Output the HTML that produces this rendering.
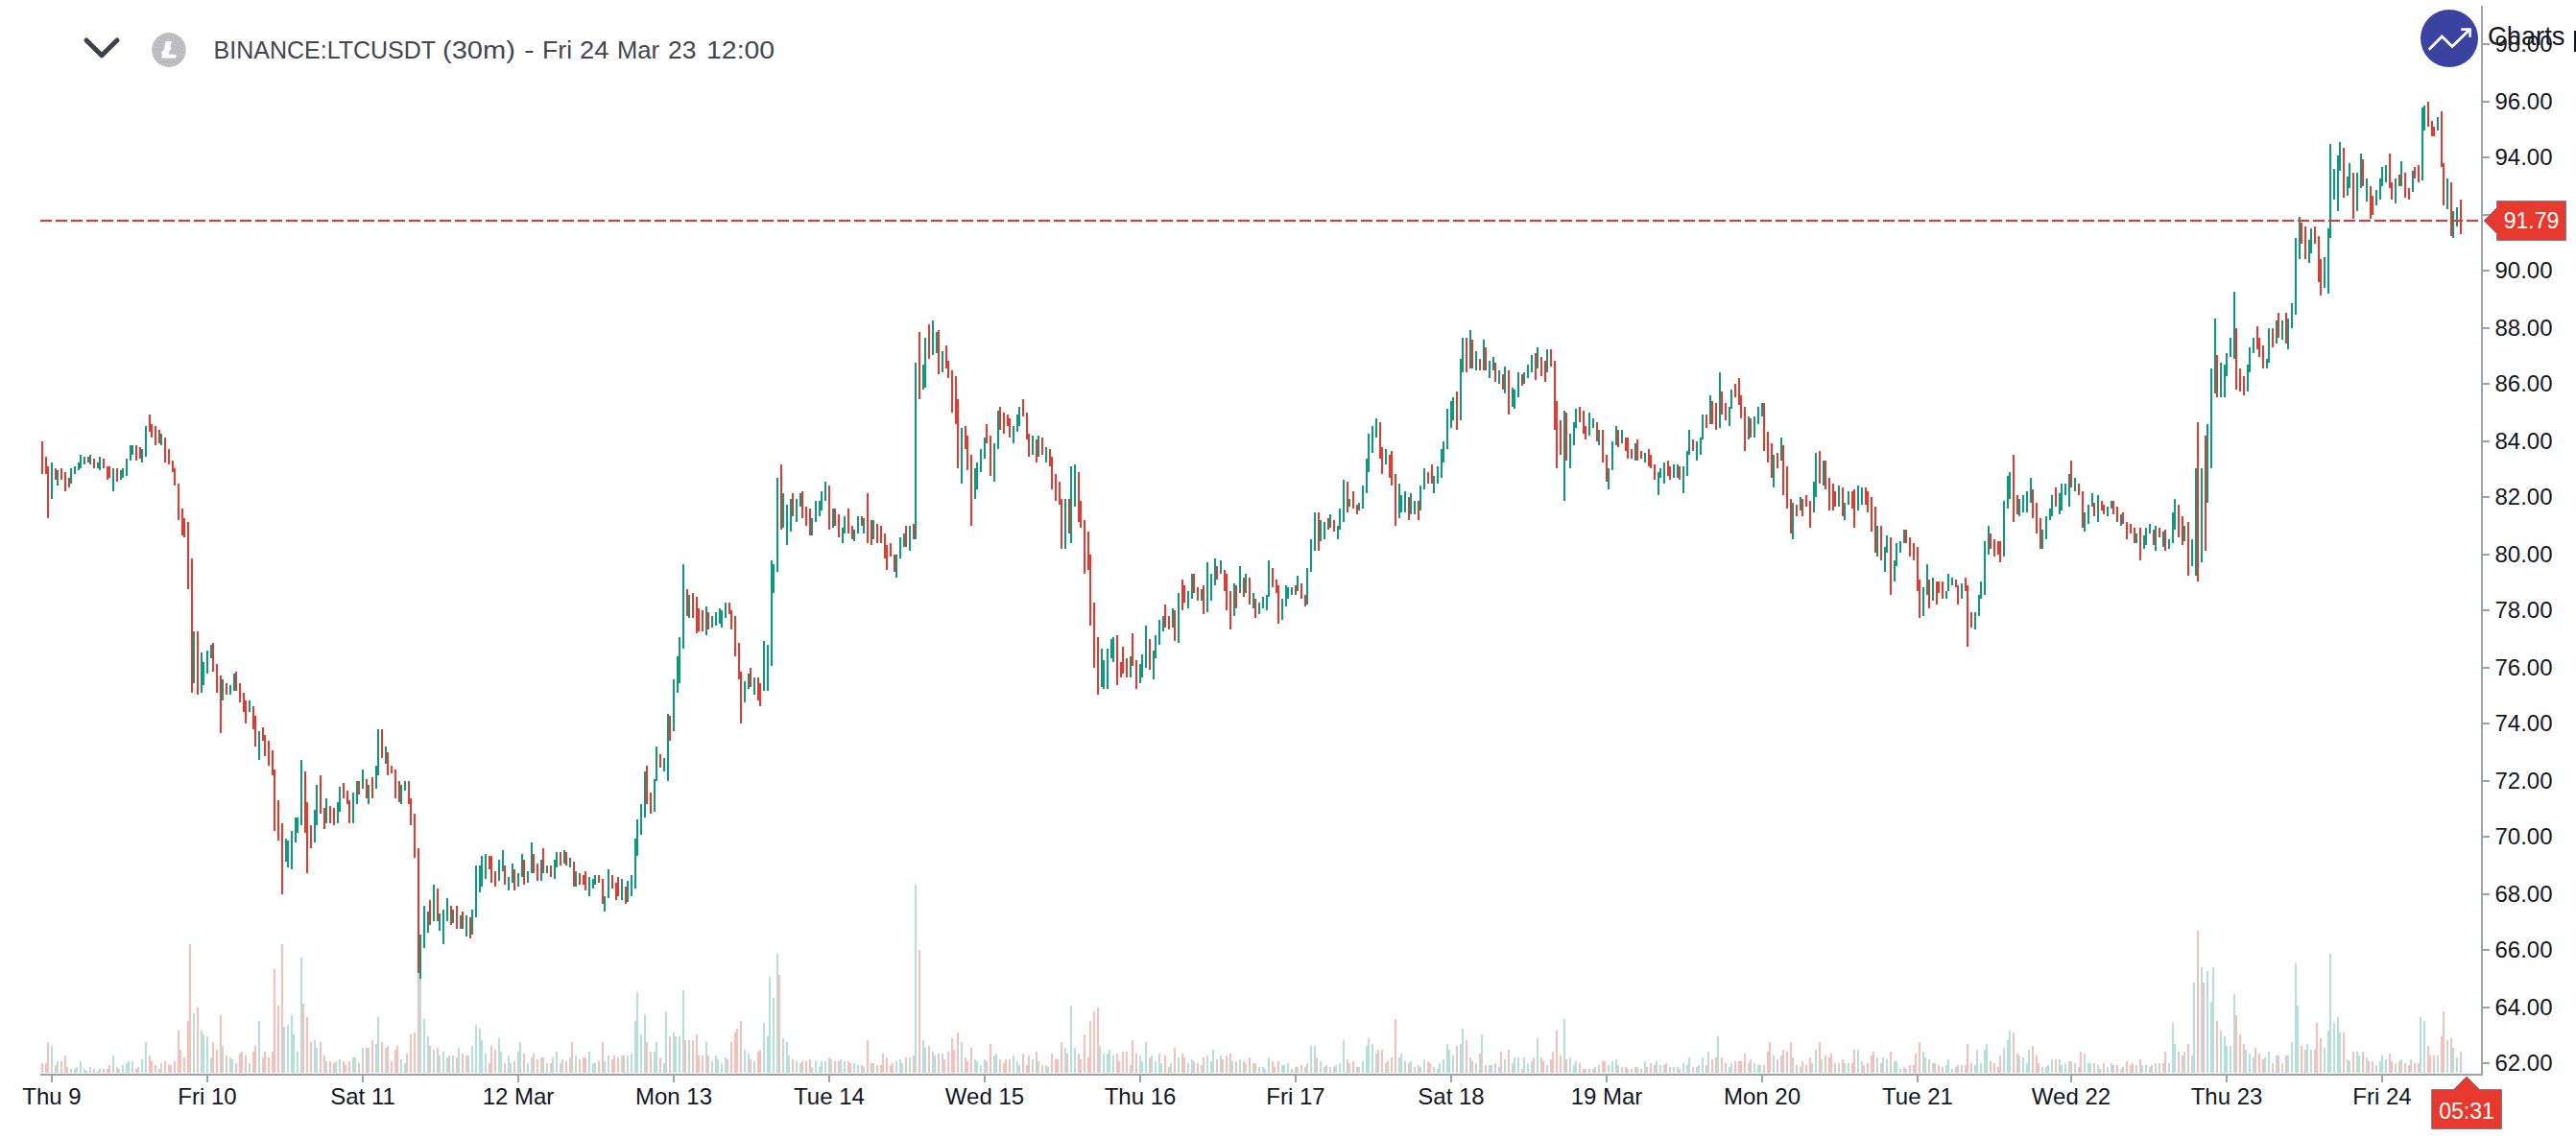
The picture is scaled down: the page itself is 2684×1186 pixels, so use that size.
<!DOCTYPE html>
<html><head><meta charset="utf-8"><title>LTCUSDT</title>
<style>
html,body{margin:0;padding:0;background:#fff}
body{width:2684px;height:1186px;position:relative;overflow:hidden;font-family:"Liberation Sans",sans-serif;color:#131722}
.pl{position:absolute;left:2599.5px;width:80px;height:28px;line-height:28px;font-size:24px;white-space:nowrap;transform-origin:0 50%;transform:scale(1.0,1.03)}
.dl{position:absolute;top:1128px;width:200px;height:30px;line-height:30px;text-align:center;font-size:24px;white-space:nowrap}
#title{position:absolute;left:0;top:27px;height:50px;line-height:50px;font-size:25px;color:#434651;white-space:nowrap}
#title span{position:absolute;top:0;transform-origin:0 50%;white-space:nowrap}
#charts{position:absolute;left:2592px;top:20px;font-size:28px;line-height:36px;white-space:nowrap;color:#131722;transform-origin:0 50%;transform:scaleX(0.975)}
#ptag{position:absolute;left:2601px;top:210px;width:73px;height:42px}
#ptag span,#ttag span{position:absolute;left:0;right:0;top:0;bottom:0;color:#fff;font-size:24px;line-height:40px;text-align:center;transform:scaleX(0.96)}
#ttag{position:absolute;left:2533px;top:1137.5px;width:74px;height:42px}
</style></head><body>
<svg width="2684" height="1186" viewBox="0 0 2684 1186" shape-rendering="crispEdges" style="position:absolute;left:0;top:0"><path d="M54 1118V1090M60 1118V1106M74 1118V1114M78 1118V1114M80 1118V1112M84 1118V1106M88 1118V1114M94 1118V1112M102 1118V1116M104 1118V1114M118 1118V1100M124 1118V1114M128 1118V1110M132 1118V1108M134 1118V1106M138 1118V1106M148 1118V1104M152 1118V1086M168 1118V1108M202 1118V1056M210 1118V1074M212 1118V1078M216 1118V1080M220 1118V1102M232 1118V1090M240 1118V1102M242 1118V1104M260 1118V1108M270 1118V1064M296 1118V1070M300 1118V1068M304 1118V1058M306 1118V1078M310 1118V1096M314 1118V998M328 1118V1084M330 1118V1092M340 1118V1106M350 1118V1106M354 1118V1104M368 1118V1102M370 1118V1102M378 1118V1092M384 1118V1092M392 1118V1088M394 1118V1060M402 1118V1092M418 1118V1104M422 1118V1108M438 1118V1020M442 1118V1062M446 1118V1080M452 1118V1094M458 1118V1100M462 1118V1096M466 1118V1102M472 1118V1100M478 1118V1092M486 1118V1100M492 1118V1090M496 1118V1068M500 1118V1072M502 1118V1084M506 1118V1098M520 1118V1082M522 1118V1096M530 1118V1100M532 1118V1108M540 1118V1096M542 1118V1086M550 1118V1108M554 1118V1102M564 1118V1102M570 1118V1108M576 1118V1102M580 1118V1096M586 1118V1104M594 1118V1102M600 1118V1100M614 1118V1096M618 1118V1108M620 1118V1108M630 1118V1106M634 1118V1100M648 1118V1100M654 1118V1100M658 1118V1098M662 1118V1064M664 1118V1034M668 1118V1078M672 1118V1058M682 1118V1096M684 1118V1086M692 1118V1108M694 1118V1054M702 1118V1076M704 1118V1080M708 1118V1080M712 1118V1032M718 1118V1084M736 1118V1086M742 1118V1106M746 1118V1100M748 1118V1104M752 1118V1108M756 1118V1102M776 1118V1094M780 1118V1098M786 1118V1106M796 1118V1066M800 1118V1080M802 1118V1018M806 1118V1040M810 1118V994M816 1118V1082M820 1118V1086M822 1118V1100M830 1118V1106M834 1118V1108M846 1118V1112M850 1118V1106M854 1118V1112M856 1118V1106M860 1118V1106M866 1118V1104M876 1118V1104M880 1118V1106M890 1118V1108M894 1118V1110M900 1118V1112M910 1118V1108M934 1118V1106M938 1118V1104M940 1118V1108M948 1118V1102M954 1118V922M962 1118V1084M964 1118V1092M972 1118V1096M974 1118V1100M982 1118V1098M1002 1118V1086M1016 1118V1104M1018 1118V1106M1022 1118V1110M1026 1118V1104M1036 1118V1100M1038 1118V1098M1056 1118V1100M1060 1118V1106M1062 1118V1110M1076 1118V1104M1082 1118V1106M1090 1118V1110M1110 1118V1092M1116 1118V1048M1120 1118V1092M1146 1118V1090M1150 1118V1098M1154 1118V1098M1156 1118V1094M1160 1118V1100M1178 1118V1110M1188 1118V1100M1190 1118V1106M1194 1118V1086M1200 1118V1100M1204 1118V1106M1208 1118V1098M1210 1118V1108M1220 1118V1108M1228 1118V1102M1238 1118V1108M1242 1118V1104M1252 1118V1110M1258 1118V1100M1262 1118V1106M1264 1118V1094M1272 1118V1100M1284 1118V1106M1292 1118V1104M1298 1118V1108M1306 1118V1108M1312 1118V1112M1316 1118V1112M1318 1118V1114M1322 1118V1102M1336 1118V1110M1338 1118V1110M1342 1118V1108M1346 1118V1114M1352 1118V1112M1362 1118V1108M1366 1118V1090M1370 1118V1090M1376 1118V1106M1380 1118V1112M1386 1118V1112M1392 1118V1110M1396 1118V1108M1400 1118V1084M1406 1118V1108M1416 1118V1112M1420 1118V1106M1424 1118V1090M1426 1118V1082M1430 1118V1088M1434 1118V1098M1444 1118V1108M1458 1118V1102M1460 1118V1098M1464 1118V1106M1470 1118V1106M1474 1118V1112M1480 1118V1112M1484 1118V1104M1494 1118V1112M1498 1118V1114M1500 1118V1108M1504 1118V1104M1508 1118V1088M1510 1118V1094M1514 1118V1100M1522 1118V1088M1524 1118V1072M1532 1118V1102M1538 1118V1108M1544 1118V1078M1552 1118V1110M1554 1118V1110M1562 1118V1112M1568 1118V1104M1576 1118V1108M1578 1118V1102M1582 1118V1102M1588 1118V1102M1592 1118V1108M1596 1118V1106M1602 1118V1082M1612 1118V1110M1630 1118V1062M1636 1118V1102M1640 1118V1110M1642 1118V1106M1656 1118V1114M1660 1118V1114M1666 1118V1110M1676 1118V1110M1680 1118V1106M1684 1118V1104M1690 1118V1112M1704 1118V1112M1714 1118V1106M1726 1118V1106M1730 1118V1110M1734 1118V1110M1744 1118V1112M1748 1118V1112M1754 1118V1108M1758 1118V1110M1760 1118V1102M1768 1118V1112M1770 1118V1110M1774 1118V1102M1780 1118V1096M1790 1118V1080M1802 1118V1112M1804 1118V1108M1822 1118V1108M1828 1118V1108M1832 1118V1110M1834 1118V1110M1848 1118V1100M1856 1118V1100M1868 1118V1102M1876 1118V1112M1888 1118V1108M1892 1118V1094M1898 1118V1104M1916 1118V1108M1922 1118V1108M1926 1118V1108M1936 1118V1094M1940 1118V1106M1956 1118V1102M1962 1118V1102M1966 1118V1104M1974 1118V1106M1976 1118V1106M1980 1118V1114M1984 1118V1112M2004 1118V1096M2006 1118V1102M2014 1118V1108M2028 1118V1110M2030 1118V1104M2034 1118V1114M2044 1118V1110M2058 1118V1110M2060 1118V1094M2064 1118V1108M2068 1118V1094M2070 1118V1088M2088 1118V1092M2092 1118V1084M2094 1118V1074M2104 1118V1100M2108 1118V1102M2112 1118V1108M2114 1118V1094M2128 1118V1112M2132 1118V1112M2134 1118V1110M2138 1118V1104M2146 1118V1104M2148 1118V1110M2152 1118V1108M2156 1118V1106M2162 1118V1108M2172 1118V1098M2176 1118V1108M2178 1118V1108M2186 1118V1110M2196 1118V1112M2200 1118V1108M2210 1118V1114M2226 1118V1110M2232 1118V1110M2236 1118V1110M2240 1118V1112M2246 1118V1108M2254 1118V1108M2260 1118V1108M2264 1118V1066M2266 1118V1088M2276 1118V1096M2284 1118V1100M2286 1118V1024M2294 1118V1008M2300 1118V1012M2304 1118V1044M2306 1118V1008M2314 1118V1074M2318 1118V1080M2320 1118V1090M2324 1118V1090M2328 1118V1036M2340 1118V1094M2344 1118V1098M2348 1118V1102M2360 1118V1102M2364 1118V1096M2372 1118V1100M2378 1118V1108M2384 1118V1100M2388 1118V1086M2392 1118V1004M2394 1118V1048M2404 1118V1088M2408 1118V1094M2422 1118V1092M2426 1118V1074M2428 1118V994M2432 1118V1066M2436 1118V1060M2438 1118V1076M2446 1118V1104M2448 1118V1106M2456 1118V1096M2458 1118V1100M2466 1118V1102M2476 1118V1110M2480 1118V1106M2482 1118V1100M2486 1118V1104M2496 1118V1108M2502 1118V1104M2512 1118V1104M2522 1118V1060M2526 1118V1064M2540 1118V1100M2550 1118V1084M2556 1118V1092M2560 1118V1102" stroke="#b5e0d7" stroke-width="2" fill="none"/><path d="M44 1118V1108M48 1118V1108M50 1118V1086M58 1118V1110M64 1118V1106M68 1118V1100M70 1118V1112M90 1118V1116M98 1118V1114M108 1118V1114M112 1118V1114M114 1118V1110M122 1118V1112M142 1118V1114M144 1118V1112M156 1118V1100M158 1118V1106M162 1118V1110M166 1118V1114M172 1118V1106M176 1118V1110M178 1118V1110M182 1118V1106M186 1118V1074M188 1118V1094M192 1118V1102M196 1118V1064M198 1118V984M206 1118V1050M222 1118V1086M226 1118V1094M230 1118V1058M236 1118V1100M246 1118V1108M250 1118V1098M252 1118V1096M256 1118V1100M264 1118V1096M266 1118V1090M274 1118V1102M276 1118V1096M280 1118V1102M284 1118V1096M286 1118V1010M290 1118V1048M294 1118V984M316 1118V1046M320 1118V1060M324 1118V1086M334 1118V1086M338 1118V1100M344 1118V1106M348 1118V1108M358 1118V1106M360 1118V1110M364 1118V1106M374 1118V1108M382 1118V1092M388 1118V1084M398 1118V1086M404 1118V1090M408 1118V1106M412 1118V1094M414 1118V1090M424 1118V1098M428 1118V1078M432 1118V1076M436 1118V1014M448 1118V1090M456 1118V1092M468 1118V1100M476 1118V1102M482 1118V1098M488 1118V1100M510 1118V1108M512 1118V1090M516 1118V1094M526 1118V1108M536 1118V1106M546 1118V1098M556 1118V1098M560 1118V1104M566 1118V1102M574 1118V1108M584 1118V1108M590 1118V1106M596 1118V1086M604 1118V1104M608 1118V1102M610 1118V1102M624 1118V1106M628 1118V1086M638 1118V1104M640 1118V1100M644 1118V1102M650 1118V1100M674 1118V1086M678 1118V1096M688 1118V1102M698 1118V1080M714 1118V1084M722 1118V1084M726 1118V1078M728 1118V1100M732 1118V1100M738 1118V1100M758 1118V1104M762 1118V1086M766 1118V1076M768 1118V1072M772 1118V1064M782 1118V1104M790 1118V1096M792 1118V1094M812 1118V1016M826 1118V1104M836 1118V1106M840 1118V1106M844 1118V1104M864 1118V1102M870 1118V1106M874 1118V1106M884 1118V1106M886 1118V1108M898 1118V1110M904 1118V1084M908 1118V1108M914 1118V1110M918 1118V1110M920 1118V1098M924 1118V1102M928 1118V1110M930 1118V1108M944 1118V1102M952 1118V1100M958 1118V990M968 1118V1090M978 1118V1098M984 1118V1104M988 1118V1096M992 1118V1082M994 1118V1094M998 1118V1076M1006 1118V1102M1008 1118V1106M1012 1118V1092M1028 1118V1106M1032 1118V1088M1042 1118V1104M1046 1118V1108M1048 1118V1104M1052 1118V1104M1066 1118V1098M1070 1118V1110M1072 1118V1100M1080 1118V1096M1086 1118V1110M1092 1118V1112M1096 1118V1098M1100 1118V1104M1102 1118V1104M1106 1118V1086M1112 1118V1098M1124 1118V1098M1126 1118V1104M1130 1118V1078M1134 1118V1102M1136 1118V1064M1140 1118V1054M1144 1118V1050M1164 1118V1098M1166 1118V1106M1170 1118V1096M1174 1118V1096M1180 1118V1084M1184 1118V1098M1198 1118V1102M1214 1118V1100M1218 1118V1112M1224 1118V1092M1232 1118V1098M1234 1118V1102M1244 1118V1106M1248 1118V1108M1254 1118V1102M1268 1118V1104M1274 1118V1104M1278 1118V1100M1282 1118V1098M1288 1118V1106M1296 1118V1106M1302 1118V1102M1308 1118V1108M1326 1118V1106M1328 1118V1112M1332 1118V1106M1350 1118V1112M1356 1118V1110M1360 1118V1112M1372 1118V1102M1382 1118V1110M1390 1118V1112M1404 1118V1104M1410 1118V1106M1414 1118V1112M1436 1118V1094M1440 1118V1094M1446 1118V1106M1450 1118V1102M1454 1118V1062M1468 1118V1108M1478 1118V1110M1488 1118V1106M1490 1118V1108M1518 1118V1090M1528 1118V1084M1534 1118V1106M1542 1118V1098M1548 1118V1110M1558 1118V1108M1564 1118V1096M1572 1118V1094M1586 1118V1114M1598 1118V1102M1606 1118V1102M1608 1118V1106M1616 1118V1104M1618 1118V1096M1622 1118V1074M1626 1118V1100M1632 1118V1104M1646 1118V1108M1650 1118V1114M1652 1118V1114M1662 1118V1112M1670 1118V1106M1672 1118V1106M1686 1118V1110M1694 1118V1112M1696 1118V1114M1700 1118V1114M1706 1118V1112M1710 1118V1114M1716 1118V1112M1720 1118V1108M1724 1118V1110M1736 1118V1108M1740 1118V1112M1750 1118V1114M1764 1118V1112M1778 1118V1110M1784 1118V1104M1788 1118V1102M1794 1118V1102M1798 1118V1108M1808 1118V1106M1812 1118V1106M1814 1118V1106M1818 1118V1098M1824 1118V1104M1838 1118V1110M1842 1118V1096M1844 1118V1086M1852 1118V1104M1858 1118V1094M1862 1118V1096M1866 1118V1086M1872 1118V1110M1878 1118V1106M1882 1118V1110M1886 1118V1102M1896 1118V1086M1902 1118V1100M1906 1118V1102M1908 1118V1098M1912 1118V1108M1920 1118V1104M1930 1118V1108M1932 1118V1094M1942 1118V1110M1946 1118V1108M1950 1118V1100M1952 1118V1096M1960 1118V1108M1970 1118V1096M1986 1118V1114M1990 1118V1110M1994 1118V1110M1996 1118V1098M2000 1118V1086M2010 1118V1104M2016 1118V1108M2020 1118V1110M2024 1118V1112M2038 1118V1112M2040 1118V1110M2048 1118V1110M2050 1118V1088M2054 1118V1108M2074 1118V1106M2078 1118V1108M2082 1118V1112M2084 1118V1100M2098 1118V1076M2102 1118V1098M2118 1118V1090M2122 1118V1100M2124 1118V1108M2142 1118V1104M2158 1118V1106M2166 1118V1112M2168 1118V1096M2182 1118V1108M2188 1118V1114M2192 1118V1108M2202 1118V1110M2206 1118V1110M2212 1118V1112M2216 1118V1106M2220 1118V1110M2222 1118V1108M2230 1118V1104M2242 1118V1110M2250 1118V1108M2256 1118V1096M2270 1118V1096M2274 1118V1100M2280 1118V1088M2290 1118V970M2296 1118V1024M2310 1118V1064M2330 1118V1058M2334 1118V1078M2338 1118V1088M2350 1118V1092M2354 1118V1098M2358 1118V1104M2368 1118V1108M2374 1118V1100M2382 1118V1100M2398 1118V1090M2402 1118V1094M2412 1118V1094M2414 1118V1066M2418 1118V1082M2442 1118V1076M2452 1118V1096M2462 1118V1096M2468 1118V1106M2472 1118V1106M2490 1118V1098M2492 1118V1106M2500 1118V1106M2506 1118V1108M2510 1118V1110M2516 1118V1108M2520 1118V1108M2530 1118V1090M2532 1118V1100M2536 1118V1100M2544 1118V1080M2546 1118V1054M2554 1118V1082M2564 1118V1096" stroke="#f8beba" stroke-width="2" fill="none"/><path d="M54 482V520M60 490V506M74 488V504M78 486V494M82 482V490M84 474V488M88 476V484M94 474V484M102 482V488M104 476V490M118 488V512M126 490V500M128 488V498M132 478V496M136 464V480M138 464V474M148 468V482M152 444V476M168 452V464M202 658V712M210 680V722M212 690V714M216 678V702M220 672V686M232 708V730M240 714V724M244 702V720M260 730V742M270 762V792M298 874V898M300 876V904M304 866V906M308 852V878M310 852V868M314 792V860M328 844V878M330 818V860M340 832V858M352 836V858M354 820V846M368 826V858M372 814V838M378 802V822M384 818V838M392 798V822M394 760V808M402 778V796M418 818V838M422 814V824M438 974V1020M442 944V988M446 950V972M452 922V960M458 952V970M462 948V984M466 936V960M472 948V962M480 954V968M486 954V976M492 948V974M496 902V956M500 902V930M502 892V924M506 890V916M520 896V918M524 886V908M530 914V928M534 900V920M540 910V924M544 890V914M550 908V920M554 878V910M564 896V918M570 902V910M578 896V916M580 888V904M588 886V900M594 894V904M600 908V924M614 914V934M618 916V926M620 912V922M630 934V950M634 906V936M648 916V938M654 918V940M658 912V934M662 874V926M664 854V892M668 838V870M672 804V852M682 812V846M684 778V814M692 790V804M696 744V814M702 708V762M706 684V722M708 664V712M712 588V676M718 620V644M736 632V662M742 642V654M746 638V652M750 634V650M752 636V654M756 628V644M776 710V732M780 702V718M786 706V724M796 668V720M800 672V720M804 584V694M806 588V618M810 498V596M816 514V550M820 526V568M824 520V554M830 520V544M834 514V528M846 540V558M850 522V544M854 522V538M856 512V532M860 502V522M868 530V550M878 550V566M880 538V556M890 552V564M894 538V556M900 540V556M910 542V562M934 578V602M938 560V582M942 556V570M948 548V574M954 378V562M962 380V406M964 352V404M972 334V370M976 346V368M982 366V388M1002 446V504M1016 488V520M1018 482V510M1022 468V492M1026 456V478M1036 462V502M1040 428V468M1056 444V462M1060 432V450M1062 424V444M1076 454V474M1082 454V476M1090 466V482M1110 520V572M1116 486V566M1120 484V528M1148 676V716M1150 688V718M1154 676V718M1158 666V686M1160 664V690M1178 684V706M1188 692V712M1190 682V706M1194 652V696M1202 678V708M1204 662V686M1208 646V672M1212 642V658M1222 634V654M1228 618V670M1238 616V634M1242 598V624M1252 614V626M1258 586V638M1262 598V626M1266 582V610M1272 584V598M1286 608V642M1292 590V618M1298 598V618M1306 618V634M1312 628V640M1316 622V634M1320 620V636M1322 584V622M1336 624V646M1340 610V632M1342 612V624M1346 612V620M1352 600V616M1362 592V630M1366 562V596M1370 534V574M1376 542V564M1380 544V562M1386 536V550M1394 548V562M1396 530V552M1400 500V544M1406 520V528M1416 524V532M1420 506V530M1424 478V514M1426 452V492M1430 444V472M1434 436V456M1444 468V484M1458 504V540M1460 516V534M1464 512V534M1470 514V536M1474 522V536M1480 506V532M1484 488V510M1494 496V514M1498 486V504M1502 468V498M1504 460V482M1508 426V468M1512 418V446M1514 414V438M1522 374V438M1524 352V388M1532 344V384M1538 366V386M1546 354V386M1552 376V394M1556 372V386M1562 386V400M1568 382V410M1576 404V424M1578 406V426M1582 388V414M1588 388V400M1592 380V394M1596 370V388M1602 362V384M1612 364V388M1630 428V522M1636 452V488M1640 440V464M1642 426V446M1656 430V454M1660 436V446M1666 448V464M1676 488V510M1680 460V490M1684 444V464M1690 448V462M1704 462V480M1714 472V482M1728 492V516M1730 488V498M1734 482V504M1744 484V498M1748 484V498M1754 486V514M1758 470V496M1760 448V474M1768 460V480M1772 456V474M1774 432V458M1782 412V442M1792 388V446M1802 424V444M1804 406V426M1822 434V458M1828 434V456M1832 424V442M1836 420V434M1848 474V508M1856 456V480M1868 524V562M1876 518V532M1890 502V534M1892 472V518M1900 480V506M1916 506V528M1922 524V542M1926 512V526M1936 506V532M1940 508V526M1956 548V580M1964 570V596M1966 558V576M1974 584V606M1976 566V590M1980 564V576M1984 552V566M2004 612V642M2008 588V620M2014 602V626M2028 616V624M2030 598V616M2034 602V610M2044 608V624M2058 638V656M2062 620V642M2064 606V624M2068 564V620M2072 548V578M2088 522V580M2092 496V530M2094 492V520M2104 520V538M2108 516V534M2112 512V534M2116 498V524M2128 552V572M2132 538V562M2136 530V542M2138 516V538M2146 514V536M2148 504V532M2152 504V516M2156 494V528M2162 498V512M2172 534V554M2176 526V546M2180 514V528M2186 516V544M2196 528V538M2200 522V530M2210 536V548M2226 556V566M2234 558V572M2236 550V568M2240 546V556M2246 548V574M2254 554V570M2260 562V572M2264 534V566M2266 520V552M2276 548V564M2284 562V590M2288 488V600M2294 488V586M2300 442V524M2304 384V488M2308 332V410M2314 378V414M2318 380V414M2320 368V392M2324 352V372M2328 304V374M2342 380V408M2344 362V388M2348 352V368M2362 374V384M2364 342V378M2372 334V358M2378 334V354M2384 332V364M2388 316V342M2392 248V328M2396 226V270M2406 250V274M2408 238V264M2422 268V300M2426 238V306M2428 150V248M2432 176V208M2436 162V220M2438 148V178M2446 184V204M2448 170V196M2456 180V220M2460 160V196M2466 186V210M2476 198V214M2480 186V208M2482 174V194M2486 172V190M2496 186V212M2502 168V194M2514 178V200M2524 112V188M2526 110V136M2540 122V136M2550 186V218M2556 220V248M2560 216V236" stroke="#0a9a7c" stroke-width="2" fill="none"/><path d="M44 460V494M48 476V494M50 486V540M58 488V500M64 488V500M68 492V512M72 498V508M92 476V482M98 478V488M108 478V488M112 486V500M114 486V498M122 488V502M142 464V480M146 466V478M156 432V450M158 442V456M162 444V464M166 448V462M172 456V482M176 468V484M180 480V492M182 488V506M186 504V542M190 530V558M192 540V560M196 544V614M200 582V722M206 658V724M222 670V700M226 692V722M230 704V764M236 712V724M246 700V720M250 712V732M254 722V742M256 730V754M264 736V760M266 746V778M274 758V772M276 766V788M280 772V798M284 782V808M286 802V866M290 834V876M294 858V932M318 804V868M320 836V910M324 860V884M334 808V848M338 842V864M344 840V858M348 842V860M358 816V832M362 824V838M364 834V858M374 814V828M382 812V832M388 810V832M398 760V790M404 784V808M408 798V806M412 802V832M416 814V836M426 814V838M428 832V860M432 848V894M436 884V1014M448 938V964M456 926V960M470 944V964M476 944V968M482 950V968M490 956V978M510 892V906M512 892V920M516 908V924M526 902V922M536 906V928M546 896V922M556 890V910M560 900V918M566 884V910M574 902V914M584 888V902M590 888V902M598 898V924M604 910V922M608 912V922M610 908V928M624 912V920M628 916V942M638 912V926M642 920V938M644 914V934M652 924V942M674 798V838M678 826V848M688 786V800M698 746V772M716 614V642M722 618V644M726 622V660M728 634V658M732 636V658M738 638V656M760 628V640M762 636V656M766 642V684M770 670V708M772 700V754M782 696V716M790 706V730M792 712V736M814 484V552M826 514V538M836 512V540M840 528V548M844 530V558M864 506V552M870 530V548M874 536V560M884 530V556M888 548V562M898 538V548M904 514V566M908 542V568M914 546V566M918 548V566M922 556V582M924 568V594M928 566V580M932 578V596M944 548V570M952 546V562M958 346V416M968 338V374M978 344V390M986 360V384M988 376V394M992 386V430M996 392V442M998 416V488M1006 444V468M1008 454V490M1012 474V548M1028 442V462M1032 454V496M1042 424V448M1046 430V452M1050 432V444M1052 436V456M1066 416V434M1070 430V458M1072 452V476M1080 458V482M1086 456V474M1094 468V486M1096 476V510M1100 494V522M1104 502V526M1106 520V572M1114 520V556M1124 492V544M1126 522V550M1130 542V598M1134 554V594M1136 578V652M1140 628V696M1144 664V724M1164 662V714M1168 690V706M1170 674V702M1174 686V706M1180 660V694M1184 688V718M1198 666V698M1214 630V654M1218 642V656M1224 636V668M1232 604V636M1234 610V628M1244 598V618M1248 612V626M1254 610V640M1268 590V604M1276 594V616M1278 598V636M1282 616V656M1288 610V634M1296 602V622M1302 602V630M1308 624V644M1326 592V612M1330 604V618M1332 610V650M1350 610V620M1356 608V624M1360 620V632M1374 534V574M1384 540V552M1390 542V554M1404 502V534M1410 512V530M1414 526V536M1438 440V478M1440 466V494M1448 474V498M1450 470V506M1454 494V548M1468 518V542M1478 522V542M1488 492V504M1492 484V504M1518 408V448M1528 352V388M1534 354V384M1542 374V386M1548 362V386M1558 378V398M1566 390V406M1572 386V432M1586 390V402M1600 368V396M1606 372V392M1610 376V398M1616 364V382M1620 376V448M1622 418V488M1626 438V474M1632 430V480M1646 424V440M1650 428V452M1652 444V458M1664 440V460M1670 448V482M1674 474V502M1686 448V466M1694 456V470M1696 456V478M1700 468V478M1706 458V480M1710 470V478M1718 468V486M1720 474V488M1724 484V500M1738 480V496M1740 486V500M1750 486V500M1764 458V470M1778 432V446M1784 418V442M1788 420V448M1794 408V432M1798 420V438M1808 400V414M1812 394V422M1814 412V436M1818 424V470M1824 436V456M1838 420V470M1842 450V482M1846 462V498M1852 472V488M1858 464V516M1862 486V530M1866 520V556M1872 526V538M1878 520V538M1882 516V528M1886 522V550M1896 470V504M1902 480V510M1906 498V532M1910 504V532M1912 512V528M1920 508V538M1930 512V530M1932 510V550M1944 508V526M1946 512V534M1950 518V554M1954 528V576M1960 548V584M1970 560V620M1986 552V566M1990 560V580M1994 566V584M1998 570V616M2000 604V644M2010 604V634M2018 606V630M2020 606V618M2024 606V624M2038 604V612M2040 610V630M2048 602V616M2050 610V674M2054 638V654M2074 556V572M2078 562V580M2082 564V578M2084 564V586M2098 474V544M2102 516V536M2118 510V540M2122 524V556M2126 540V572M2142 508V528M2158 480V508M2166 504V516M2170 512V550M2182 524V538M2190 522V532M2192 526V536M2202 522V536M2206 528V544M2212 534V546M2216 544V562M2220 546V556M2224 550V566M2230 550V584M2244 552V568M2250 550V560M2256 552V574M2270 526V560M2274 538V568M2280 544V600M2290 440V606M2298 454V574M2310 370V414M2330 342V406M2334 384V408M2338 392V412M2352 340V364M2354 352V372M2358 360V384M2368 342V362M2374 326V352M2382 326V358M2398 232V254M2402 236V270M2412 236V254M2416 246V294M2418 270V308M2442 154V206M2452 180V228M2462 166V194M2470 194V228M2472 204V224M2490 160V196M2492 190V208M2500 182V194M2506 180V206M2510 196V208M2516 174V186M2520 172V190M2530 106V132M2534 126V142M2536 132V142M2544 116V174M2546 170V214M2554 190V246M2564 208V244" stroke="#e8382d" stroke-width="2" fill="none"/><path d="M42 230H2585" stroke="#e8382d" stroke-width="2" stroke-dasharray="12 4" fill="none"/><rect x="42" y="1119" width="2545" height="2" fill="#9ca3af"/><rect x="2585" y="6" width="2" height="1115" fill="#9ca3af"/><path d="M2587 1108h7M2587 1050h7M2587 990h7M2587 932h7M2587 872h7M2587 814h7M2587 754h7M2587 696h7M2587 636h7M2587 578h7M2587 518h7M2587 460h7M2587 400h7M2587 342h7M2587 282h7M2587 224h7M2587 164h7M2587 106h7M2587 46h7" stroke="#9ca3af" stroke-width="2" fill="none"/><path d="M54 1121v7M216 1121v7M378 1121v7M540 1121v7M702 1121v7M864 1121v7M1026 1121v7M1188 1121v7M1350 1121v7M1512 1121v7M1674 1121v7M1836 1121v7M1998 1121v7M2158 1121v7M2320 1121v7M2482 1121v7" stroke="#9ca3af" stroke-width="2" fill="none"/></svg>
<svg width="2684" height="1186" viewBox="0 0 2684 1186" style="position:absolute;left:0;top:0">
<path d="M90 42L106 57.8L122 42" fill="none" stroke="#3e414c" stroke-width="5" stroke-linecap="round" stroke-linejoin="round"/>
<circle cx="176" cy="52" r="17.9" fill="#bfbec2"/>
<path d="M171.1 38.0h1v1h-1zM173.9 38.0h1v1h-1zM177.0 38.0h1v1h-1zM182.0 38.7h1v1h-1zM167.0 39.9h1v1h-1zM171.1 40.9h1v1h-1zM179.0 39.9h1v1h-1zM185.0 40.9h1v1h-1zM164.9 43.0h1v1h-1zM169.0 44.0h1v1h-1zM182.0 43.0h1v1h-1zM187.0 44.0h1v1h-1zM163.0 47.0h1v1h-1zM167.0 47.0h1v1h-1zM184.0 46.1h1v1h-1zM189.0 47.0h1v1h-1zM181.0 48.0h1v1h-1zM185.9 48.9h1v1h-1zM161.9 51.0h1v1h-1zM165.9 51.0h1v1h-1zM183.0 51.0h1v1h-1zM189.0 51.0h1v1h-1zM185.9 53.0h1v1h-1zM190.0 53.9h1v1h-1zM180.0 54.0h1v1h-1zM163.0 57.0h1v1h-1zM164.9 62.0h1v1h-1zM187.0 60.9h1v1h-1zM184.0 62.9h1v1h-1zM167.9 64.0h1v1h-1zM171.0 64.0h1v1h-1zM173.9 64.0h1v1h-1zM177.0 64.0h1v1h-1zM180.0 64.0h1v1h-1zM183.0 66.0h1v1h-1z" fill="#a2a8b4"/>
<path d="M172.8 43H178.7L177.3 49.6L178.6 49.3L178 51L176.6 53L175.4 56.6L183.9 57.3L183 60.6H168.3L169 56.6L167.8 55.6L169.2 53.5L170.9 51.6Z" fill="#fff"/>
<circle cx="2552" cy="40" r="30" fill="#3b43a0"/>
<path d="M2530.8 51.8L2544.3 38L2555 48.6L2573.5 30.5" fill="none" stroke="#fff" stroke-width="2.8"/>
<path d="M2564.4 30.6H2573.6V38.8" fill="none" stroke="#fff" stroke-width="2.6"/>
<path d="M2588 230L2601.5 216.5V209.5H2673.5V250.5H2601.5V243.5Z" fill="#e8392e" stroke="#76828e" stroke-width="1"/>
<path d="M2570 1122L2583.5 1135.5H2606.5V1176.5H2533.5V1135.5H2556.5Z" fill="#e8392e" stroke="#76828e" stroke-width="1"/>
</svg>
<div id="title"><span style="left:222.6px;transform:scaleX(1.000)">BINANCE:LTCUSDT</span><span style="left:460.7px;transform:scaleX(1.161)">(30m)</span><span style="left:545.5px;transform:scaleX(1.300)">-</span><span style="left:564.9px;transform:scaleX(1.068)">Fri</span><span style="left:603.8px;transform:scaleX(1.092)">24</span><span style="left:643.0px;transform:scaleX(1.022)">Mar</span><span style="left:696.4px;transform:scaleX(1.058)">23</span><span style="left:735.5px;transform:scaleX(1.138)">12:00</span></div>
<div id="charts">Charts</div><div style="position:absolute;left:2682px;top:32px;width:2px;height:22px;background:#131722"></div>
<div class="pl" style="top:1094px">62.00</div><div class="pl" style="top:1036px">64.00</div><div class="pl" style="top:976px">66.00</div><div class="pl" style="top:918px">68.00</div><div class="pl" style="top:858px">70.00</div><div class="pl" style="top:800px">72.00</div><div class="pl" style="top:740px">74.00</div><div class="pl" style="top:682px">76.00</div><div class="pl" style="top:622px">78.00</div><div class="pl" style="top:564px">80.00</div><div class="pl" style="top:504px">82.00</div><div class="pl" style="top:446px">84.00</div><div class="pl" style="top:386px">86.00</div><div class="pl" style="top:328px">88.00</div><div class="pl" style="top:268px">90.00</div><div class="pl" style="top:150px">94.00</div><div class="pl" style="top:92px">96.00</div><div class="pl" style="top:32px">98.00</div>
<div class="dl" style="left:-46px">Thu 9</div><div class="dl" style="left:116px">Fri 10</div><div class="dl" style="left:278px">Sat 11</div><div class="dl" style="left:440px">12 Mar</div><div class="dl" style="left:602px">Mon 13</div><div class="dl" style="left:764px">Tue 14</div><div class="dl" style="left:926px">Wed 15</div><div class="dl" style="left:1088px">Thu 16</div><div class="dl" style="left:1250px">Fri 17</div><div class="dl" style="left:1412px">Sat 18</div><div class="dl" style="left:1574px">19 Mar</div><div class="dl" style="left:1736px">Mon 20</div><div class="dl" style="left:1898px">Tue 21</div><div class="dl" style="left:2058px">Wed 22</div><div class="dl" style="left:2220px">Thu 23</div><div class="dl" style="left:2382px">Fri 24</div>
<div id="ptag"><span>91.79</span></div>
<div id="ttag"><span>05:31</span></div>
</body></html>
